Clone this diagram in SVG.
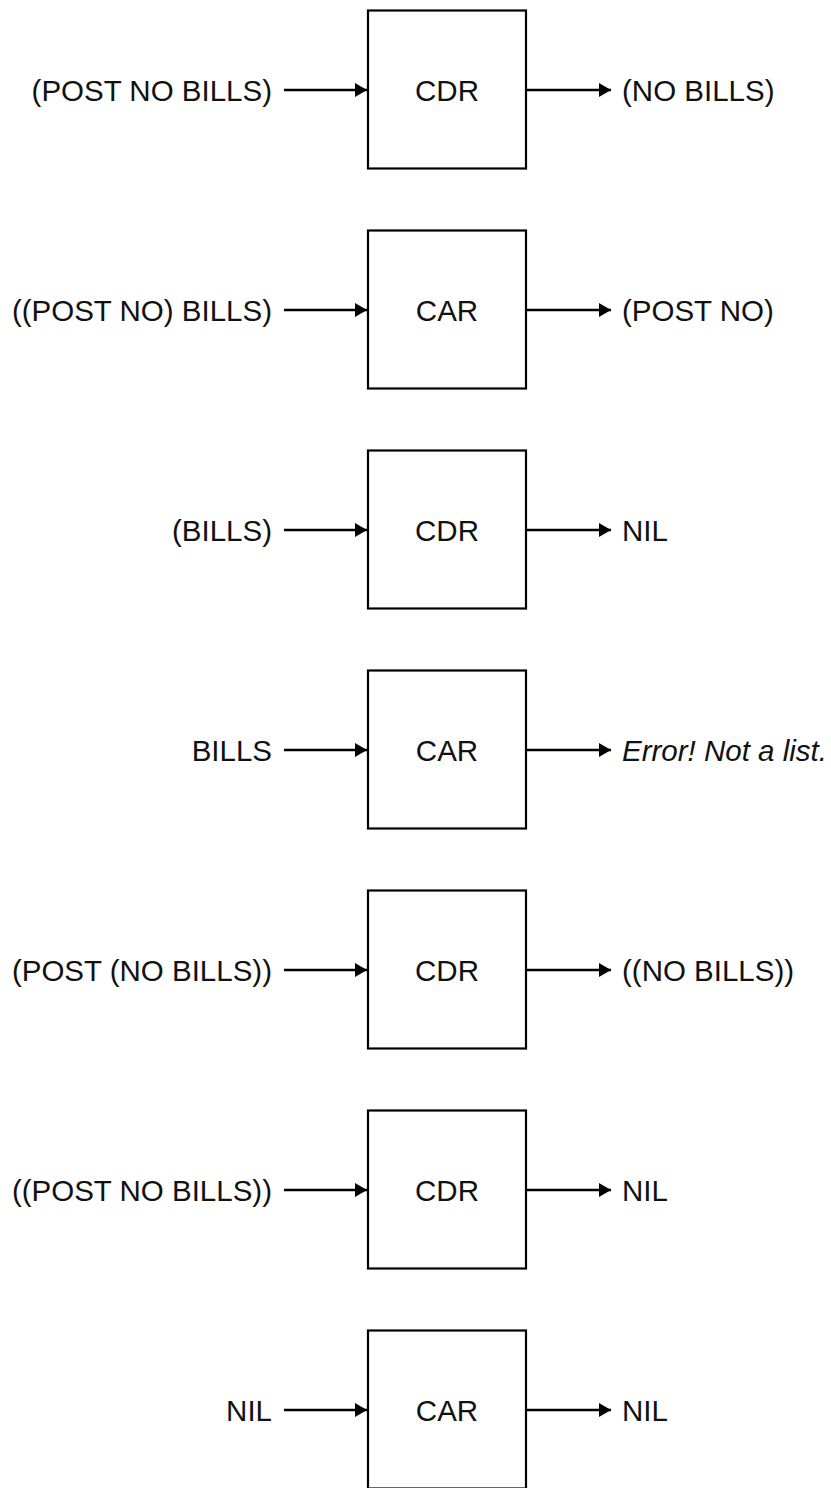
<svg xmlns="http://www.w3.org/2000/svg" width="831" height="1488" viewBox="0 0 831 1488">
<style>
.box{fill:#fff;stroke:#000;stroke-width:2.2}
.lbl{font-family:"Liberation Sans",Arial,sans-serif;font-size:29.5px;fill:#111}
.in{text-anchor:end}
.mid{text-anchor:middle}
.conn line{stroke:#000;stroke-width:2.6}
</style>
<defs>
<marker id="ah" markerUnits="userSpaceOnUse" markerWidth="13" markerHeight="16" refX="12" refY="7" orient="auto">
<path d="M0,0 L12,7 L0,14 Z" fill="#000"/>
</marker>
</defs>
<rect width="831" height="1488" fill="#fff"/>
<g id="n1"><rect class="box" x="368" y="10.5" width="158" height="158"/><text class="lbl mid" x="447" y="100.5">CDR</text></g>
<g id="n2"><rect class="box" x="368" y="230.5" width="158" height="158"/><text class="lbl mid" x="447" y="320.5">CAR</text></g>
<g id="n3"><rect class="box" x="368" y="450.5" width="158" height="158"/><text class="lbl mid" x="447" y="540.5">CDR</text></g>
<g id="n4"><rect class="box" x="368" y="670.5" width="158" height="158"/><text class="lbl mid" x="447" y="760.5">CAR</text></g>
<g id="n5"><rect class="box" x="368" y="890.5" width="158" height="158"/><text class="lbl mid" x="447" y="980.5">CDR</text></g>
<g id="n6"><rect class="box" x="368" y="1110.5" width="158" height="158"/><text class="lbl mid" x="447" y="1200.5">CDR</text></g>
<g id="n7"><rect class="box" x="368" y="1330.5" width="158" height="158"/><text class="lbl mid" x="447" y="1420.5">CAR</text></g>
<g id="labels">
<text class="lbl in" x="272" y="100.5">(POST NO BILLS)</text>
<text class="lbl" x="622" y="100.5">(NO BILLS)</text>
<text class="lbl in" x="272" y="320.5">((POST NO) BILLS)</text>
<text class="lbl" x="622" y="320.5">(POST NO)</text>
<text class="lbl in" x="272" y="540.5">(BILLS)</text>
<text class="lbl" x="622" y="540.5">NIL</text>
<text class="lbl in" x="272" y="760.5">BILLS</text>
<text class="lbl" x="622" y="760.5" font-style="italic">Error! Not a list.</text>
<text class="lbl in" x="272" y="980.5">(POST (NO BILLS))</text>
<text class="lbl" x="622" y="980.5">((NO BILLS))</text>
<text class="lbl in" x="272" y="1200.5">((POST NO BILLS))</text>
<text class="lbl" x="622" y="1200.5">NIL</text>
<text class="lbl in" x="272" y="1420.5">NIL</text>
<text class="lbl" x="622" y="1420.5">NIL</text>
</g>
<g id="connectors" class="conn">
<line x1="284" y1="90" x2="367" y2="90" marker-end="url(#ah)"/>
<line x1="527" y1="90" x2="611" y2="90" marker-end="url(#ah)"/>
<line x1="284" y1="310" x2="367" y2="310" marker-end="url(#ah)"/>
<line x1="527" y1="310" x2="611" y2="310" marker-end="url(#ah)"/>
<line x1="284" y1="530" x2="367" y2="530" marker-end="url(#ah)"/>
<line x1="527" y1="530" x2="611" y2="530" marker-end="url(#ah)"/>
<line x1="284" y1="750" x2="367" y2="750" marker-end="url(#ah)"/>
<line x1="527" y1="750" x2="611" y2="750" marker-end="url(#ah)"/>
<line x1="284" y1="970" x2="367" y2="970" marker-end="url(#ah)"/>
<line x1="527" y1="970" x2="611" y2="970" marker-end="url(#ah)"/>
<line x1="284" y1="1190" x2="367" y2="1190" marker-end="url(#ah)"/>
<line x1="527" y1="1190" x2="611" y2="1190" marker-end="url(#ah)"/>
<line x1="284" y1="1410" x2="367" y2="1410" marker-end="url(#ah)"/>
<line x1="527" y1="1410" x2="611" y2="1410" marker-end="url(#ah)"/>
</g>
</svg>
